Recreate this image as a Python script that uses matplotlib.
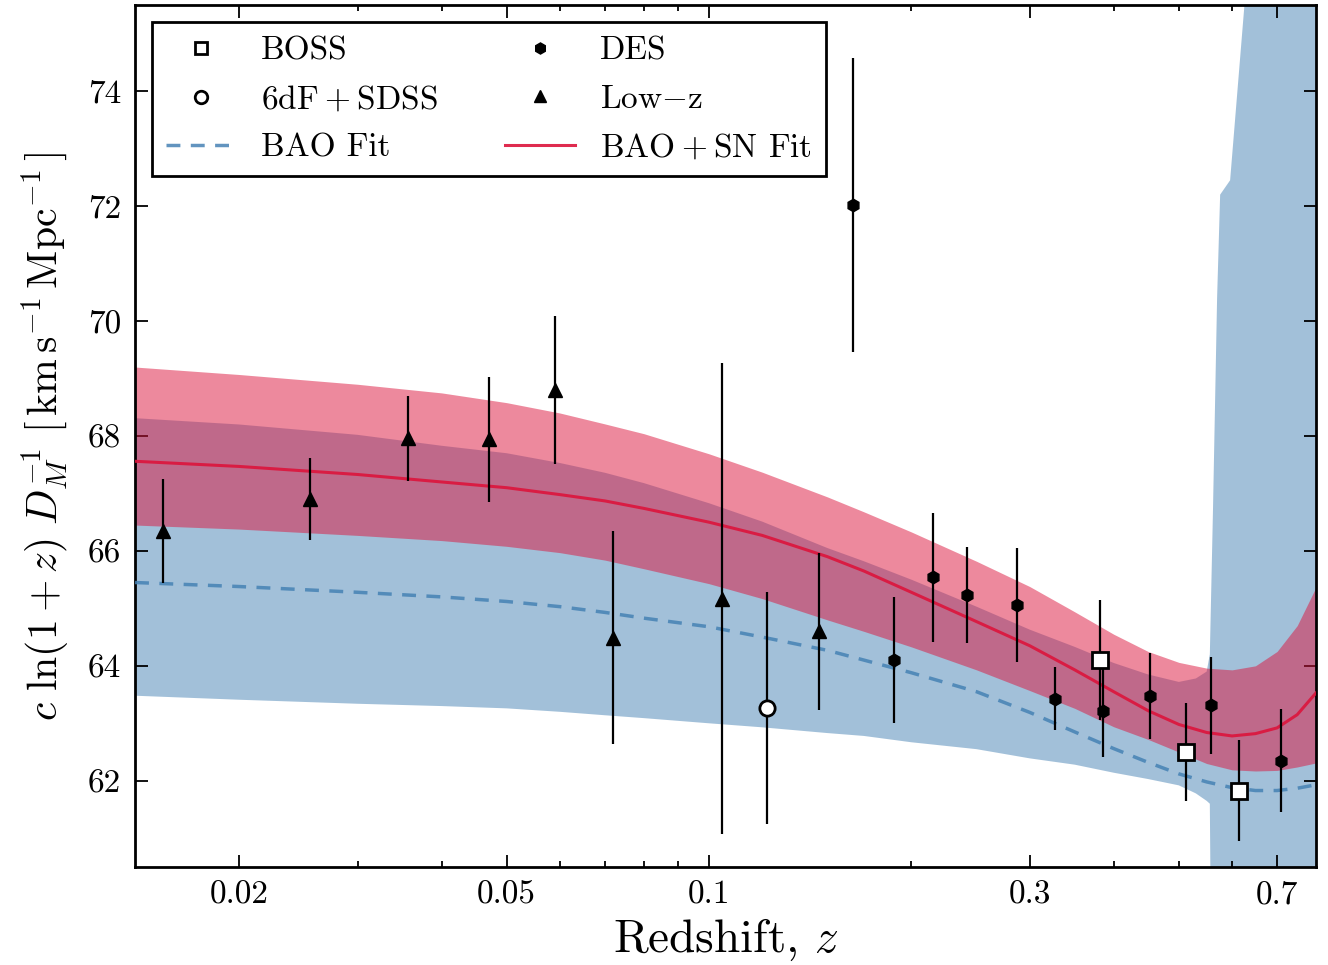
import numpy as np
import matplotlib
matplotlib.use('Agg')
import matplotlib.pyplot as plt
from matplotlib.lines import Line2D

plt.rcParams['font.family'] = 'serif'
plt.rcParams['font.serif'] = ['cmr10']
plt.rcParams['mathtext.fontset'] = 'cm'
plt.rcParams['axes.unicode_minus'] = False
plt.rcParams['axes.formatter.use_mathtext'] = True

# ---- data ----
boss_z = [0.382, 0.513, 0.614]
boss_y = [64.10, 62.50, 61.83]
boss_err = [1.05, 0.86, 0.88]

sdss_z = [0.122]
sdss_y = [63.27]
sdss_err = [2.02]

des_z = [0.1638, 0.1885, 0.2154, 0.2421, 0.2873, 0.3273, 0.3858, 0.4532, 0.558, 0.710]
des_y = [72.02, 64.10, 65.54, 65.23, 65.06, 63.43, 63.22, 63.48, 63.31, 62.35]
des_err = [2.55, 1.10, 1.12, 0.83, 0.99, 0.55, 0.80, 0.75, 0.85, 0.90]

lowz_z = [0.0154, 0.0255, 0.0357, 0.0471, 0.0590, 0.0720, 0.1045, 0.1458]
lowz_y = [66.35, 66.90, 67.96, 67.94, 68.80, 64.49, 65.17, 64.60]
lowz_err = [0.90, 0.71, 0.74, 1.09, 1.29, 1.85, 4.10, 1.37]

# BAO+SN fit (line and band) and BAO fit line
fit_z = [0.014, 0.02, 0.03, 0.04, 0.05, 0.06, 0.07, 0.08, 0.1, 0.12, 0.15, 0.17, 0.2, 0.25, 0.3,
         0.35, 0.4, 0.45, 0.5, 0.55, 0.6, 0.65, 0.7, 0.75, 0.8]
sn_mid = [67.56, 67.47, 67.33, 67.20, 67.10, 66.98, 66.87, 66.74, 66.50, 66.27, 65.90, 65.65, 65.28, 64.77, 64.35,
          63.93, 63.55, 63.22, 62.98, 62.84, 62.78, 62.82, 62.92, 63.15, 63.53]
sn_hi = [69.20, 69.07, 68.90, 68.75, 68.58, 68.40, 68.21, 68.04, 67.69, 67.37, 66.94, 66.68, 66.33, 65.82, 65.38,
         64.94, 64.55, 64.25, 64.06, 63.96, 63.93, 64.00, 64.25, 64.70, 65.37]
sn_lo = [66.45, 66.38, 66.27, 66.18, 66.08, 65.97, 65.84, 65.69, 65.43, 65.17, 64.80, 64.60, 64.33, 63.93, 63.57,
         63.26, 62.94, 62.72, 62.50, 62.30, 62.19, 62.17, 62.18, 62.24, 62.31]
bao_mid = [65.45, 65.38, 65.28, 65.20, 65.12, 65.03, 64.93, 64.83, 64.68, 64.50, 64.27, 64.10, 63.88, 63.55, 63.19,
           62.85, 62.56, 62.32, 62.12, 61.98, 61.88, 61.83, 61.83, 61.87, 61.93]
# BAO band (blows up past z~0.56)
bao_z = [0.014, 0.02, 0.03, 0.04, 0.05, 0.06, 0.07, 0.08, 0.1, 0.12, 0.15, 0.17, 0.2, 0.25, 0.3, 0.35, 0.4,
         0.45, 0.5, 0.53, 0.55, 0.556, 0.562, 0.57, 0.576, 0.596, 0.627, 0.7, 0.8]
bao_lo = [63.48, 63.41, 63.34, 63.30, 63.26, 63.20, 63.14, 63.09, 63.00, 62.93, 62.83, 62.78, 62.67, 62.55, 62.39,
          62.28, 62.14, 62.03, 61.92, 61.78, 61.65, 61.60, 55.0, 55.0, 55.0, 55.0, 55.0, 55.0, 55.0]
bao_hi = [68.31, 68.20, 68.02, 67.83, 67.70, 67.53, 67.36, 67.18, 66.83, 66.51, 66.05, 65.82, 65.50, 65.03, 64.63,
          64.33, 64.05, 63.85, 63.72, 63.78, 63.90, 64.20, 66.70, 70.40, 72.20, 72.45, 75.60, 78.0, 80.0]

xticks_major = [0.02, 0.05, 0.1, 0.3, 0.7]
xtick_labels = ['0.02', '0.05', '0.1', '0.3', '0.7']
xticks_minor = [0.03, 0.04, 0.06, 0.07, 0.08, 0.09, 0.2, 0.4, 0.5, 0.6]
yticks = [62, 64, 66, 68, 70, 72, 74]

blue = '#4682B4'
red = '#DC143C'

fig = plt.figure(figsize=(13.28, 9.65), dpi=100)
ax = fig.add_axes([0.1017, 0.1016, 0.8893, 0.8932])

ax.fill_between(bao_z, bao_lo, bao_hi, color=blue, alpha=0.5, lw=0, zorder=1)
ax.fill_between(fit_z, sn_lo, sn_hi, color=red, alpha=0.5, lw=0, zorder=2)
ax.plot(fit_z, bao_mid, color=blue, ls=(0, (4, 3)), lw=2.5, alpha=0.85, zorder=3)
ax.plot(fit_z, sn_mid, color=red, lw=2.2, alpha=0.9, zorder=3)

ekw = dict(ls='none', ecolor='k', elinewidth=1.6, capsize=0, zorder=5)
ax.errorbar(lowz_z, lowz_y, yerr=lowz_err, marker='^', ms=10, mfc='k', mec='k', **ekw)
ax.errorbar(sdss_z, sdss_y, yerr=sdss_err, marker='o', ms=11, mfc='w', mec='k', mew=2, **ekw)
ax.errorbar(des_z, des_y, yerr=des_err, marker='h', ms=9, mfc='k', mec='k', **ekw)
ax.errorbar(boss_z, boss_y, yerr=boss_err, marker='s', ms=11, mfc='w', mec='k', mew=2, **ekw)

ax.set_xscale('log')
ax.set_xlim(0.014, 0.8)
ax.set_ylim(60.5, 75.5)
ax.set_xticks(xticks_major)
ax.set_xticklabels(xtick_labels)
ax.set_xticks(xticks_minor, minor=True)
ax.set_xticklabels([], minor=True)
ax.set_yticks(yticks)
ax.set_yticklabels([str(t) for t in yticks])
ax.tick_params(which='both', direction='in', top=True, right=True, labelsize=24, width=1.3)
ax.tick_params(which='major', length=9, pad=10)
ax.tick_params(which='minor', length=4.5)
for s in ax.spines.values():
    s.set_linewidth(2)

ax.set_xlabel(r'Redshift, $z$', fontsize=34, labelpad=5)
ax.set_ylabel(r'$c\ \ln(1+z)\ D_M^{-1}\ [\,\mathrm{km\,s^{-1}\,Mpc^{-1}}\,]$', fontsize=30, labelpad=12)

handles = [
    Line2D([], [], ls='none', marker='s', ms=9, mfc='w', mec='k', mew=2),
    Line2D([], [], ls='none', marker='o', ms=9, mfc='w', mec='k', mew=2),
    Line2D([], [], color=blue, ls=(0, (4, 3)), lw=2.5, alpha=0.85),
    Line2D([], [], ls='none', marker='h', ms=8, mfc='k', mec='k'),
    Line2D([], [], ls='none', marker='^', ms=8, mfc='k', mec='k'),
    Line2D([], [], color=red, lw=2.2, alpha=0.9),
]
labels = ['BOSS', r'6dF$\:+\:$SDSS', 'BAO Fit', 'DES', r'Low$-$z', r'BAO$\:+\:$SN Fit']
leg = ax.legend(handles, labels, ncol=2, loc='upper left', bbox_to_anchor=(0.0144, 0.980),
                borderaxespad=0, fontsize=24, frameon=True, fancybox=False, framealpha=1,
                handlelength=2.1, handletextpad=0.75, columnspacing=2.0, labelspacing=0.56,
                borderpad=0.42)
leg.get_frame().set_edgecolor('k')
leg.get_frame().set_linewidth(2)

fig.savefig('out.png', dpi=100)
